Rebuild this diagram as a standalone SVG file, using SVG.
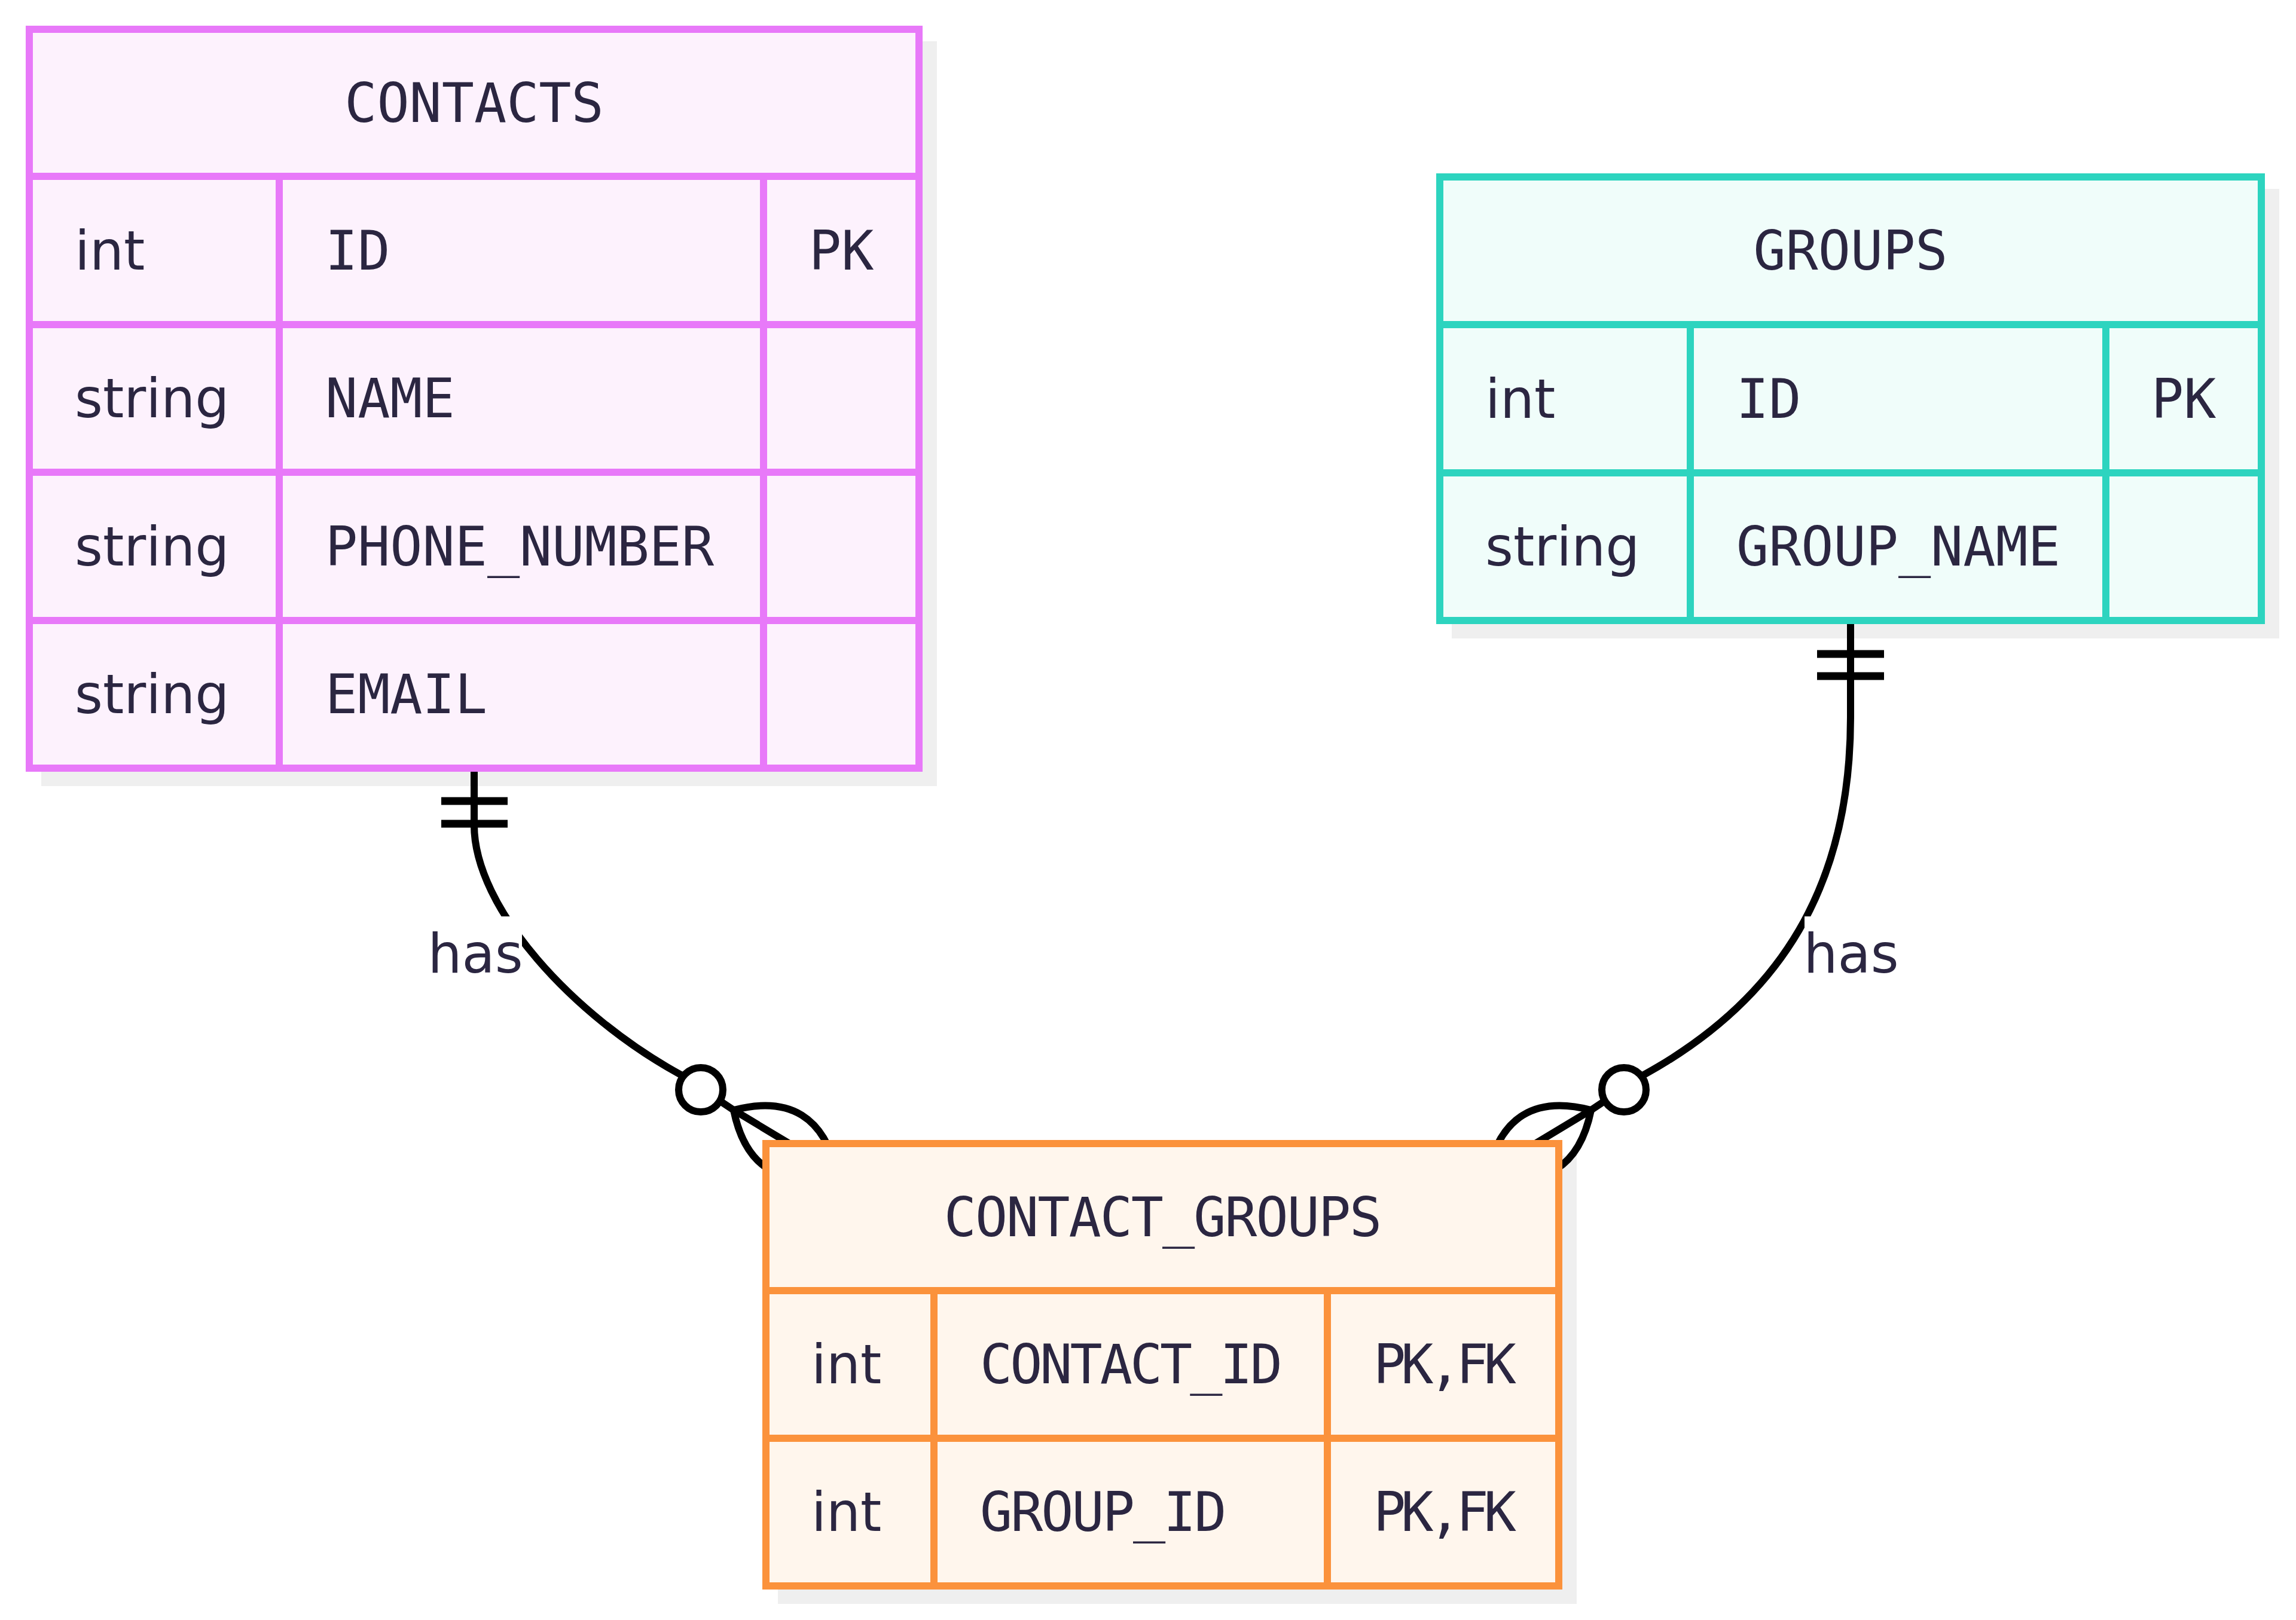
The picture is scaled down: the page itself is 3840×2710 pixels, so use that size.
<svg xmlns="http://www.w3.org/2000/svg" width="3840" height="2710" viewBox="0 0 3840 2710">
<style>
text{font-family:"DejaVu Sans Mono","Liberation Mono",monospace;font-size:90px;fill:#2b2641}
text.ty,text.lbltxt{font-family:"DejaVu Sans","Liberation Sans",sans-serif}
.hdr{text-anchor:middle}
.pkfk{letter-spacing:-8px}
.shadow{fill:#efefef}
.c-pink rect,.c-pink line{stroke:#e879f9;stroke-width:12}
.c-pink rect{fill:#fdf2fd}
.c-teal rect,.c-teal line{stroke:#2dd4bf;stroke-width:12}
.c-teal rect{fill:#f0fdfa}
.c-orange rect,.c-orange line{stroke:#fb923c;stroke-width:12}
.c-orange rect{fill:#fff6ed}
.edge{fill:none;stroke:#000;stroke-width:12}
.bar{stroke:#000;stroke-width:13}
.circ{fill:#fff;stroke:#000;stroke-width:12}
.lbl{fill:#fff}
.lbltxt{text-anchor:middle}
</style>
<rect width="3840" height="2710" fill="#fff"/>
<g id="shadows">
<rect class="shadow" x="69" y="69" width="1498" height="1246"/>
<rect class="shadow" x="2428" y="316" width="1384" height="752"/>
<rect class="shadow" x="1301" y="1933" width="1336" height="750"/>
</g>
<g id="connectors">
<g id="edge-contacts-cg">
<path class="edge" d="M793,1291 L793,1380 C793,1520 960,1700 1137,1797 L1227,1857 L1330,1919"/>
<path class="edge" d="M1227,1857 Q1368,1820 1401,1965 Q1256,2000 1227,1857"/>
<line class="bar" x1="738" y1="1340" x2="849" y2="1340"/>
<line class="bar" x1="738" y1="1378" x2="849" y2="1378"/>
<circle class="circ" cx="1172" cy="1823" r="37"/>
<rect class="lbl" x="713" y="1533" width="160" height="124"/>
<text class="lbltxt" x="795" y="1627">has</text>
</g>
<g id="edge-groups-cg">
<path class="edge" d="M3095,1044 L3095,1200 C3095,1480 2980,1670 2751,1797 L2661,1857 L2558,1919"/>
<path class="edge" d="M2661,1857 Q2520,1820 2487,1965 Q2632,2000 2661,1857"/>
<line class="bar" x1="3039" y1="1094" x2="3151" y2="1094"/>
<line class="bar" x1="3039" y1="1131" x2="3151" y2="1131"/>
<circle class="circ" cx="2716" cy="1823" r="37"/>
<rect class="lbl" x="3018" y="1533" width="156" height="124"/>
<text class="lbltxt" x="3096" y="1627">has</text>
</g>
</g>
<g id="CONTACTS" class="c-pink">
<rect x="49" y="49" width="1488" height="1236"/>
<line x1="49" y1="295" x2="1537" y2="295"/>
<line x1="49" y1="543" x2="1537" y2="543"/>
<line x1="49" y1="790" x2="1537" y2="790"/>
<line x1="49" y1="1038" x2="1537" y2="1038"/>
<line x1="467" y1="295" x2="467" y2="1285"/>
<line x1="1277" y1="295" x2="1277" y2="1285"/>
<text class="hdr" x="793" y="204">CONTACTS</text>
<text class="ty" x="125" y="451">int</text><text x="544" y="451">ID</text><text x="1353" y="451">PK</text>
<text class="ty" x="125" y="698">string</text><text x="544" y="698">NAME</text>
<text class="ty" x="125" y="946">string</text><text x="544" y="946">PHONE_NUMBER</text>
<text class="ty" x="125" y="1193">string</text><text x="544" y="1193">EMAIL</text>
</g>
<g id="GROUPS" class="c-teal">
<rect x="2408" y="296" width="1374" height="742"/>
<line x1="2408" y1="543" x2="3782" y2="543"/>
<line x1="2408" y1="791" x2="3782" y2="791"/>
<line x1="2827" y1="543" x2="2827" y2="1038"/>
<line x1="3522" y1="543" x2="3522" y2="1038"/>
<text class="hdr" x="3095" y="451">GROUPS</text>
<text class="ty" x="2484" y="699">int</text><text x="2904" y="699">ID</text><text x="3598" y="699">PK</text>
<text class="ty" x="2484" y="946">string</text><text x="2904" y="946">GROUP_NAME</text>
</g>
<g id="CONTACT_GROUPS" class="c-orange">
<rect x="1281" y="1913" width="1326" height="740"/>
<line x1="1281" y1="2159" x2="2607" y2="2159"/>
<line x1="1281" y1="2406" x2="2607" y2="2406"/>
<line x1="1562" y1="2159" x2="1562" y2="2653"/>
<line x1="2220" y1="2159" x2="2220" y2="2653"/>
<text class="hdr" x="1944" y="2068" style="letter-spacing:-2px">CONTACT_GROUPS</text>
<text class="ty" x="1357" y="2314">int</text><text x="1639" y="2314" style="letter-spacing:-4px">CONTACT_ID</text><text class="pkfk" x="2297" y="2314">PK,FK</text>
<text class="ty" x="1357" y="2561">int</text><text x="1639" y="2561" style="letter-spacing:-3px">GROUP_ID</text><text class="pkfk" x="2297" y="2561">PK,FK</text>
</g>
</svg>
